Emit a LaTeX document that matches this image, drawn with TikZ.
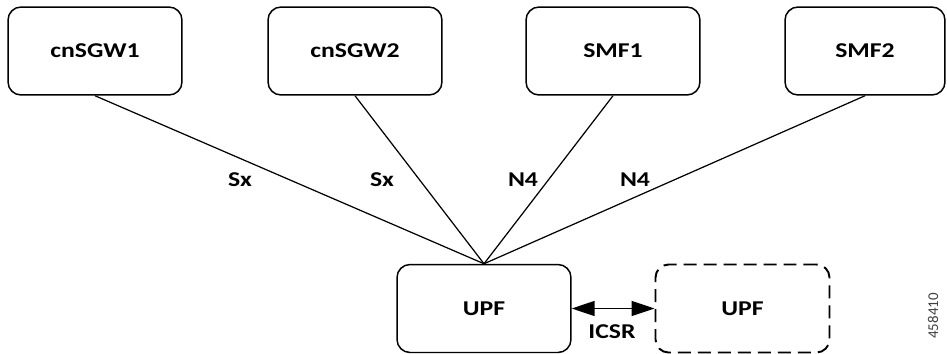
\documentclass[tikz,border=0pt]{standalone}
\usepackage{fontspec}
\usepackage{tikz}
\usetikzlibrary{arrows.meta}
\newfontfamily\diafont[FakeStretch=1.22]{Carlito}
\newfontfamily\numfont{Carlito}

\begin{document}
\begin{tikzpicture}[x=0.02cm, y=0.02cm, >={Triangle[length=0.46cm,width=0.3cm]}, line width=0.7pt]
    \tikzstyle{nf}=[rectangle, rounded corners=0.26cm, draw, line width=0.85pt, minimum width=3.48cm, minimum height=1.76cm, inner sep=0pt, font=\diafont\bfseries\fontsize{12}{14}\selectfont]
    \tikzstyle{nfd}=[nf, line width=1.1pt, dash pattern=on 0.26cm off 0.14cm]
    \tikzstyle{lab}=[inner sep=1pt, font=\diafont\bfseries\fontsize{12}{14}\selectfont]

    \useasboundingbox (0,0) rectangle (947,353);

    \node[nf] (sgw1) at (95,302) {cnSGW1};
    \node[nf] (sgw2) at (355,302) {cnSGW2};
    \node[nf] (smf1) at (613,302) {SMF1};
    \node[nf, minimum width=3.2cm] (smf2) at (865,302) {SMF2};

    \node[nf] (upf) at (484,44.5) {UPF};
    \node[nfd] (upfb) at (742.5,44.5) {UPF};

    \draw (sgw1.south) -- (upf.north);
    \draw (sgw2.south) -- (upf.north);
    \draw (smf1.south) -- (upf.north);
    \draw (smf2.south) -- (upf.north);
    \draw[<->, line width=0.9pt] (upf.east) -- (upfb.west);

    \node[lab] (sx1) at (240,173) {Sx};
    \node[lab] (sx2) at (382,173) {Sx};
    \node[lab] (n41) at (523,173) {N4};
    \node[lab] (n42) at (635,173) {N4};
    \node[lab] (icsr) at (612,21) {ICSR};

    \node[rotate=90, text=black!75, font=\numfont\fontsize{8.5}{10}\selectfont] (fig) at (933,37) {458410};
\end{tikzpicture}
\end{document}
